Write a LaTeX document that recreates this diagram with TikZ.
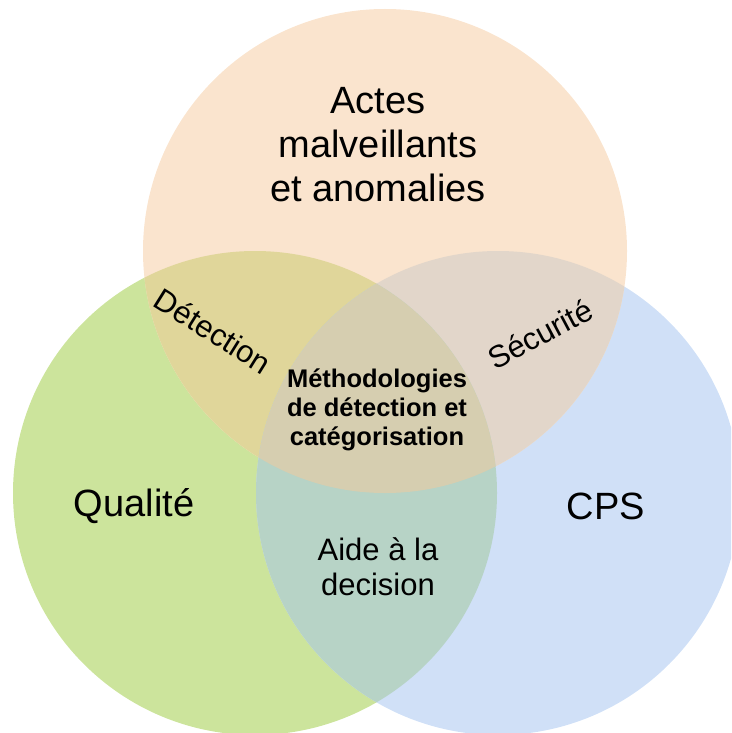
\documentclass[tikz,border=0pt]{standalone}
\usepackage{fontspec}
\setmainfont{Liberation Sans}
\definecolor{cT}{HTML}{FAE4CE}
\definecolor{cL}{HTML}{CCE49C}
\definecolor{cR}{HTML}{D0E0F7}
\definecolor{cTL}{HTML}{E0D69A}
\definecolor{cTR}{HTML}{E2D6CA}
\definecolor{cLR}{HTML}{B7D3C6}
\definecolor{cAll}{HTML}{D6CEB0}
\tikzset{
  lbl/.style={align=center, inner sep=0pt, text=black},
  big/.style={lbl, font=\fontsize{38}{44}\selectfont},
  mid/.style={lbl, font=\fontsize{31}{35}\selectfont},
  rot/.style={lbl, font=\fontsize{31}{35}\selectfont},
  small/.style={lbl, font=\bfseries\fontsize{25.5}{29}\selectfont},
}
\begin{document}
\begin{tikzpicture}[x=1pt,y=-1pt]
\useasboundingbox (0,0) rectangle (731,733);
\def\rr{242}
\coordinate (cTop) at (385,251);
\coordinate (cLeft) at (255,493);
\coordinate (cRight) at (498,493);
\clip (0,0) rectangle (731,733);
% single circles
\fill[cL] (cLeft) circle (\rr);
\fill[cR] (cRight) circle (\rr);
\fill[cT] (cTop) circle (\rr);
% pairwise
\begin{scope}
  \clip (cTop) circle (\rr);
  \fill[cTL] (cLeft) circle (\rr);
  \fill[cTR] (cRight) circle (\rr);
\end{scope}
\begin{scope}
  \clip (cLeft) circle (\rr);
  \fill[cLR] (cRight) circle (\rr);
\end{scope}
\begin{scope}
  \clip (cLeft) circle (\rr);
  \clip (cRight) circle (\rr);
  \fill[cAll] (cTop) circle (\rr);
\end{scope}
% labels
\node[big] (actes) at (378,145) {Actes\\malveillants\\et anomalies};
\node[big] (qual) at (134,506) {Qualité};
\node[big] (cps) at (606,506) {CPS};
\node[mid] (aide) at (378,567) {Aide à la\\decision};
\node[small] (meth) at (377,410) {Méthodologies\\de détection et\\catégorisation};
\node[rot, rotate=-32] (det) at (213,331) {Détection};
\node[rot, rotate=28] (sec) at (540,334) {Sécurité};
\end{tikzpicture}
\end{document}
